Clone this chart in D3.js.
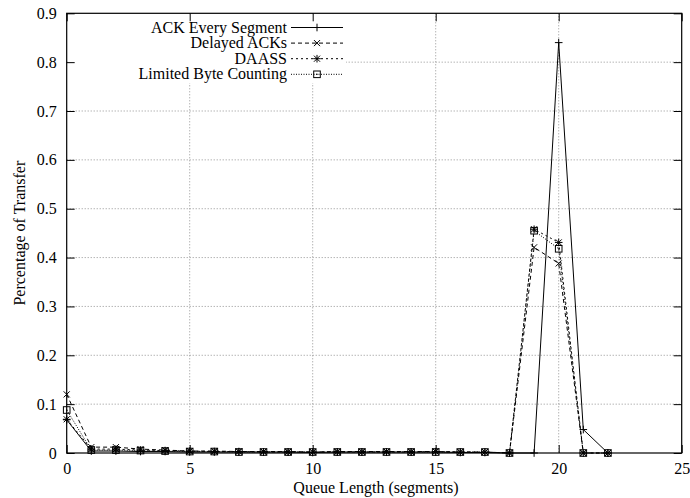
<!DOCTYPE html>
<html><head><meta charset="utf-8">
<script src="https://cdn.jsdelivr.net/npm/d3@7"></script>
<style>body{margin:0;background:#fff}svg{display:block}text{font-family:"Liberation Serif","Times New Roman",serif;fill:#000}</style>
</head><body><svg id="c" width="690" height="498"></svg>
<script>
const queueLength = [0,1,2,3,4,5,6,7,8,9,10,11,12,13,14,15,16,17,18,19,20,21,22];
const ackEverySegment = [0.068,0.004,0.004,0.003,0.003,0.002,0.002,0.002,0.002,0.002,0.001,0.002,0.002,0.002,0.002,0.002,0.001,0.001,0,0,0.84,0.048,0];
const delayedAcks = [0.12,0.012,0.012,0.008,0.006,0.004,0.004,0.003,0.003,0.003,0.002,0.003,0.003,0.003,0.003,0.003,0.002,0.002,0,0.421,0.388,0,0];
const daass = [0.069,0.008,0.008,0.006,0.005,0.004,0.003,0.003,0.002,0.002,0.002,0.002,0.002,0.002,0.002,0.003,0.002,0.002,0,0.458,0.431,0,0];
const limitedByteCounting = [0.088,0.006,0.006,0.005,0.004,0.003,0.003,0.002,0.002,0.002,0.002,0.002,0.002,0.002,0.002,0.002,0.002,0.002,0,0.455,0.418,0,0];
const seriesNames = ["ACK Every Segment","Delayed ACKs","DAASS","Limited Byte Counting"];
const xTicks = [0,5,10,15,20,25];
const yTicks = [0,0.1,0.2,0.3,0.4,0.5,0.6,0.7,0.8,0.9];
const xTitle = "Queue Length (segments)";
const yTitle = "Percentage of Transfer";

const svg = d3.select("#c");
const L=66.7,R=681.7,T=13.3,B=453;
const x = d3.scaleLinear().domain([0,25]).range([L,R]);
const y = d3.scaleLinear().domain([0,0.9]).range([B,T]);

const styles = [
  {dash:null, marker:"plus"},
  {dash:"4,3", marker:"cross"},
  {dash:"2,3", marker:"star"},
  {dash:"1,1.5", marker:"box"}
];
const allSeries = [ackEverySegment, delayedAcks, daass, limitedByteCounting];

// grid
const g = svg.append("g");
g.selectAll(".gx").data(xTicks.slice(1,-1)).enter().append("line")
  .attr("x1",d=>x(d)).attr("x2",d=>x(d)).attr("y1",T).attr("y2",B)
  .attr("stroke","#777").attr("stroke-width",0.8).attr("stroke-dasharray","1,2");
g.selectAll(".gy").data(yTicks.slice(1,-1)).enter().append("line")
  .attr("x1",L).attr("x2",R).attr("y1",d=>y(d)).attr("y2",d=>y(d))
  .attr("stroke","#777").attr("stroke-width",0.8).attr("stroke-dasharray","1,2");

// key background
svg.append("rect").attr("x",L+1).attr("y",T+1).attr("width",345-L).attr("height",82-T).attr("fill","#fff");

// axes (ticks inward, mirrored)
const tl = 8;
const xAxB = d3.axisBottom(x).tickValues(xTicks).tickSize(-tl).tickPadding(10).tickFormat(d3.format("d"));
const xAxT = d3.axisTop(x).tickValues(xTicks).tickSize(-tl).tickFormat("");
const yAxL = d3.axisLeft(y).tickValues(yTicks).tickSize(-tl).tickPadding(10).tickFormat(d=>d===0?"0":d3.format(".1f")(d));
const yAxR = d3.axisRight(y).tickValues(yTicks).tickSize(-tl).tickFormat("");
function styleAxis(sel){sel.select(".domain").remove();sel.selectAll("line").attr("stroke","#000");sel.selectAll("text").style("font-family","Liberation Serif").style("font-size","16px").attr("fill","#000");}
svg.append("g").attr("transform",`translate(0,${B})`).call(xAxB).call(styleAxis);
svg.append("g").attr("transform",`translate(0,${T})`).call(xAxT).call(styleAxis);
svg.append("g").attr("transform",`translate(${L},0)`).call(yAxL).call(styleAxis);
svg.append("g").attr("transform",`translate(${R},0)`).call(yAxR).call(styleAxis);

// frame
svg.append("rect").attr("x",L).attr("y",T).attr("width",R-L).attr("height",B-T).attr("fill","none").attr("stroke","#000").attr("stroke-width",1.2);

function drawMarker(sel, type, cx, cy){
  const s=3.8;
  if(type==="plus"||type==="star"){
    sel.append("line").attr("x1",cx-s).attr("x2",cx+s).attr("y1",cy).attr("y2",cy).attr("stroke","#000");
    sel.append("line").attr("x1",cx).attr("x2",cx).attr("y1",cy-s).attr("y2",cy+s).attr("stroke","#000");
  }
  if(type==="cross"||type==="star"){
    const t=s*0.8;
    sel.append("line").attr("x1",cx-t).attr("x2",cx+t).attr("y1",cy-t).attr("y2",cy+t).attr("stroke","#000");
    sel.append("line").attr("x1",cx-t).attr("x2",cx+t).attr("y1",cy+t).attr("y2",cy-t).attr("stroke","#000");
  }
  if(type==="box"){
    sel.append("rect").attr("x",cx-3.3).attr("y",cy-3.3).attr("width",6.6).attr("height",6.6).attr("fill","none").attr("stroke","#000");
    sel.append("rect").attr("x",cx-0.6).attr("y",cy-0.6).attr("width",1.2).attr("height",1.2).attr("fill","#000");
  }
}

// data
const line = d3.line().x(d=>x(d[0])).y(d=>y(d[1]));
allSeries.forEach((vals,i)=>{
  const pts = queueLength.map((q,j)=>[q,vals[j]]);
  const gs = svg.append("g");
  gs.append("path").attr("d",line(pts)).attr("fill","none").attr("stroke","#000").attr("stroke-width",1)
    .attr("stroke-dasharray",styles[i].dash);
  pts.forEach(p=>drawMarker(gs, styles[i].marker, x(p[0]), y(p[1])));
});

// legend
seriesNames.forEach((n,i)=>{
  const cy = 27.5 + i*15.6;
  svg.append("text").attr("x",287).attr("y",cy+5).attr("text-anchor","end").style("font-size","16px").text(n);
  const lg = svg.append("g");
  lg.append("line").attr("x1",291).attr("x2",343).attr("y1",cy).attr("y2",cy).attr("stroke","#000").attr("stroke-width",1).attr("stroke-dasharray",styles[i].dash);
  drawMarker(lg, styles[i].marker, 317, cy);
});

// titles
svg.append("text").attr("x",376).attr("y",492.5).attr("text-anchor","middle").style("font-size","16px").text(xTitle);
svg.append("text").attr("transform",`translate(25,${(T+B)/2}) rotate(-90)`).attr("text-anchor","middle").style("font-size","16px").text(yTitle);
</script></body></html>
